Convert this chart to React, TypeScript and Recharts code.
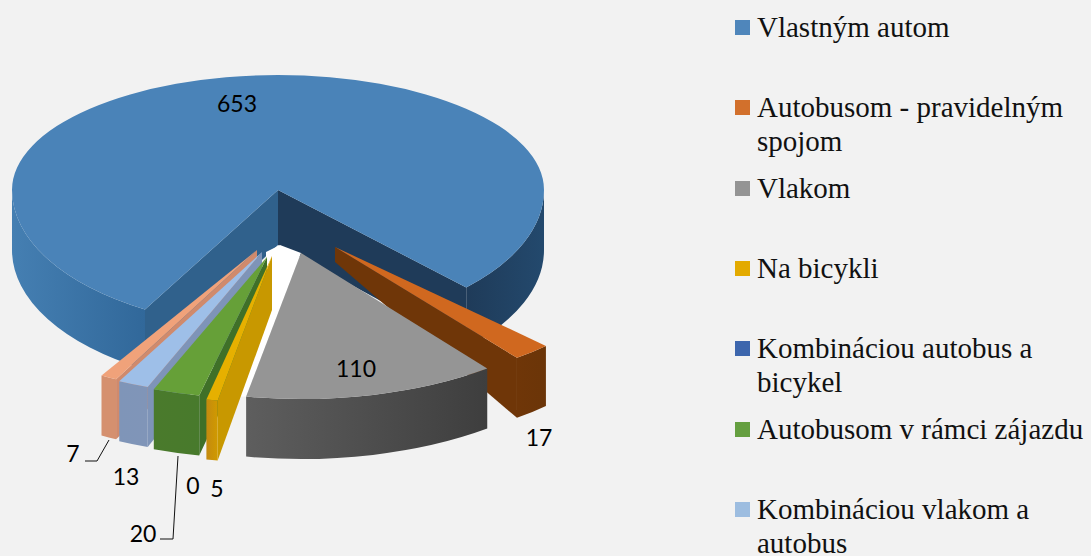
import React from 'react';
import { PieChart, Pie, Legend } from 'recharts';

const categories = [
  'Vlastným autom',
  'Autobusom - pravidelným spojom',
  'Vlakom',
  'Na bicykli',
  'Kombináciou autobus a bicykel',
  'Autobusom v rámci zájazdu',
  'Kombináciou vlakom a autobus',
  '',
];
const values = [653, 17, 110, 5, 0, 20, 13, 7];
const legendColors = ['#4f86bb', '#d2702c', '#949494', '#e3aa00', '#3d66ad', '#659f40', '#9dbde0', '#f0a27a'];

const rows = categories.map((name, i) => ({ name, value: values[i] }));

const FONT_LABEL = 'Lato, sans-serif';
const FONT_LEGEND = '"Liberation Serif", serif';
const CX = 278;
const CY = 190;
const RADIUS = 266;
const DEPTH = 60;

const sliceStyle = [
  { ax: 278, ay: 190, rx: 266, ryTop: 115, ryLow: 138, apexDepth: 55, top: '#4a83b8', startWall: '#30618c', endWall: '#1f3b59', wallA: ['#457fb2', '#31689a'], wallB: ['#1f3b59', '#23496d'] },
  { ax: 335, ay: 247, rx: 298, ryTop: 140, ryLow: 140, apexDepth: 15, top: '#d0681f', startWall: '#6f3608', endWall: '#6f3608', wallA: ['#6b3508', '#6b3508'], wallB: ['#6f3608', '#6b3508'] },
  { ax: 301, ay: 253, rx: 305, ryTop: 146, ryLow: 146, apexDepth: 60, top: '#959595', startWall: '#444444', endWall: '#444444', wallA: ['#6c6c6c', '#6c6c6c'], wallB: ['#5e5e5e', '#3e3e3e'] },
  { ax: 272, ay: 256, rx: 302, ryTop: 147, ryLow: 147, apexDepth: 54, top: '#e6b000', startWall: '#c89800', endWall: '#c89800', wallA: ['#c89000', '#c89000'], wallB: ['#c48a10', '#d09a00'] },
  { ax: 270, ay: 256, rx: 305, ryTop: 145, ryLow: 145, apexDepth: 54, top: '#3d66ad', startWall: '#2c4c85', endWall: '#2c4c85', wallA: ['#2c4c85', '#2c4c85'], wallB: ['#2c4c85', '#2c4c85'] },
  { ax: 267, ay: 257, rx: 312, ryTop: 142, ryLow: 142, apexDepth: 54, top: '#66a038', startWall: '#3f7028', endWall: '#3f7028', wallA: ['#4a7a2c', '#4a7a2c'], wallB: ['#4a7a2c', '#487a2c'] },
  { ax: 262, ay: 252, rx: 315, ryTop: 145, ryLow: 145, apexDepth: 54, top: '#9ebfe8', startWall: '#7e94b8', endWall: '#7e94b8', wallA: ['#7f95b8', '#7f95b8'], wallB: ['#7f95b8', '#8095b8'] },
  { ax: 257, ay: 250, rx: 311, ryTop: 145, ryLow: 145, apexDepth: 54, top: '#f0a27a', startWall: '#d08a6c', endWall: '#d08a6c', wallA: ['#d5906f', '#d5906f'], wallB: ['#d5906f', '#d5906f'] },
];

const paintOrder = [0, 1, 2, 7, 6, 5, 4, 3];
const labelPlaces = [
  { x: 237, y: 103 },
  { x: 539, y: 437 },
  { x: 356, y: 368 },
  { x: 217, y: 488 },
  { x: 193, y: 485 },
  { x: 143, y: 533 },
  { x: 126, y: 476 },
  { x: 73, y: 453 },
];
const leaders: Record<number, string> = {
  7: '109,440 97,461 85,461',
  5: '178,456 173,539 160,539',
};

const rad = (d: number) => (d * Math.PI) / 180;

function Slice3D(props: any, only: number) {
  const { index, startAngle, endAngle } = props;
  if (index !== only || startAngle === endAngle) return <g />;
  const st = sliceStyle[index];
  const R = st.rx;
  const ryOf = (a: number) => (Math.sin(rad(a)) > 0 ? st.ryTop : st.ryLow);
  const P = (a: number, d = 0) => [st.ax + R * Math.cos(rad(a)), st.ay - ryOf(a) * Math.sin(rad(a)) + d];
  const f = (p: number[]) => `${p[0].toFixed(2)} ${p[1].toFixed(2)}`;
  const apex = [st.ax, st.ay];
  const apexD = [st.ax, st.ay + st.apexDepth];

  const stops = [startAngle, ...[180, 0, -180].filter((b) => b < startAngle && b > endAngle), endAngle];
  const segs = stops.slice(0, -1).map((a, i) => {
    const b = stops[i + 1];
    return { a, b, ry: ryOf((a + b) / 2), low: Math.sin(rad((a + b) / 2)) < 0 };
  });

  const topPath =
    `M ${f(apex)} L ${f(P(startAngle))} ` +
    segs.map((s) => `A ${R} ${s.ry} 0 0 1 ${f(P(s.b))}`).join(' ') +
    ' Z';

  const normalDown = (a: number) => Math.sin(rad(a)) < 0;
  const showStart = normalDown(startAngle + 90);
  const showEnd = normalDown(endAngle - 90);
  const cut = (a: number) => `M ${f(apex)} L ${f(P(a))} L ${f(P(a, DEPTH))} L ${f(apexD)} Z`;

  const endP = P(endAngle);
  const gapWhite =
    index === 2
      ? `M ${f([apex[0] - 21, apex[1] - 8])} L ${f(apex)} L ${f(endP)} L ${f([endP[0] - 6, endP[1]])} L ${f([apex[0] - 35, apex[1] + 47])} L ${f([apex[0] - 35, apex[1] - 1])} Z`
      : null;

  const walls = segs.filter((s) => s.low);

  return (
    <g>
      <defs>
        {walls.map((w, i) => {
          const g = w.a > 180 ? st.wallA : st.wallB;
          return (
            <linearGradient key={i} id={`wall${index}_${i}`} x1="0" x2="1" y1="0" y2="0">
              <stop offset="0" stopColor={g[0]} />
              <stop offset="1" stopColor={g[1]} />
            </linearGradient>
          );
        })}
      </defs>
      {gapWhite && <path d={gapWhite} fill="#ffffff" />}
      {showStart && <path d={cut(startAngle)} fill={st.startWall} />}
      {showEnd && <path d={cut(endAngle)} fill={st.endWall} />}
      {walls.map((w, i) => (
        <path
          key={i}
          fill={`url(#wall${index}_${i})`}
          d={`M ${f(P(w.a))} A ${R} ${w.ry} 0 0 1 ${f(P(w.b))} L ${f(P(w.b, DEPTH))} A ${R} ${w.ry} 0 0 0 ${f(P(w.a, DEPTH))} Z`}
        />
      ))}
      <path d={topPath} fill={st.top} />
    </g>
  );
}

function renderLabel(props: any) {
  const i = props.index;
  const place = labelPlaces[i];
  return (
    <g key={i}>
      {leaders[i] && <polyline points={leaders[i]} fill="none" stroke="#111" strokeWidth={1} />}
      <text
        x={place.x}
        y={place.y}
        textAnchor="middle"
        dominantBaseline="central"
        fontFamily={FONT_LABEL}
        fontSize={23}
        fill="#000"
      >
        {values[i]}
      </text>
    </g>
  );
}

function LegendBox() {
  return (
    <div style={{ position: 'relative', width: 356, height: 556 }}>
      {categories.map((name, i) =>
        name ? (
          <div
            key={name}
            style={{
              position: 'absolute',
              left: 0,
              top: 10 + i * 80.3,
              width: 356,
              fontFamily: FONT_LEGEND,
              fontSize: 29,
              lineHeight: '34px',
              color: '#111',
            }}
          >
            <span
              style={{
                position: 'absolute',
                left: 0,
                top: 10,
                width: 15,
                height: 15,
                background: legendColors[i],
              }}
            />
            <div style={{ marginLeft: 22, width: 334 }}>{name}</div>
          </div>
        ) : null,
      )}
    </div>
  );
}

export default function App() {
  return (
    <div
      style={{
        position: 'absolute',
        left: 0,
        top: 0,
        width: 1091,
        height: 556,
        overflow: 'hidden',
        background: '#f2f2f2',
      }}
    >
      <PieChart width={1091} height={556} margin={{ top: 0, right: 0, bottom: 0, left: 0 }}>
        {paintOrder.map((idx, n) => (
          <Pie
            key={idx}
            data={rows}
            dataKey="value"
            nameKey="name"
            cx={CX}
            cy={CY}
            outerRadius={RADIUS}
            startAngle={240}
            endAngle={-120}
            paddingAngle={0}
            stroke="none"
            isAnimationActive={false}
            shape={(p: any) => Slice3D(p, idx)}
            label={n === paintOrder.length - 1 ? renderLabel : false}
            labelLine={false}
            legendType="none"
          />
        ))}
        <Legend
          layout="vertical"
          align="left"
          verticalAlign="top"
          content={<LegendBox />}
          wrapperStyle={{ left: 735, top: 0, width: 356 }}
        />
      </PieChart>
    </div>
  );
}
